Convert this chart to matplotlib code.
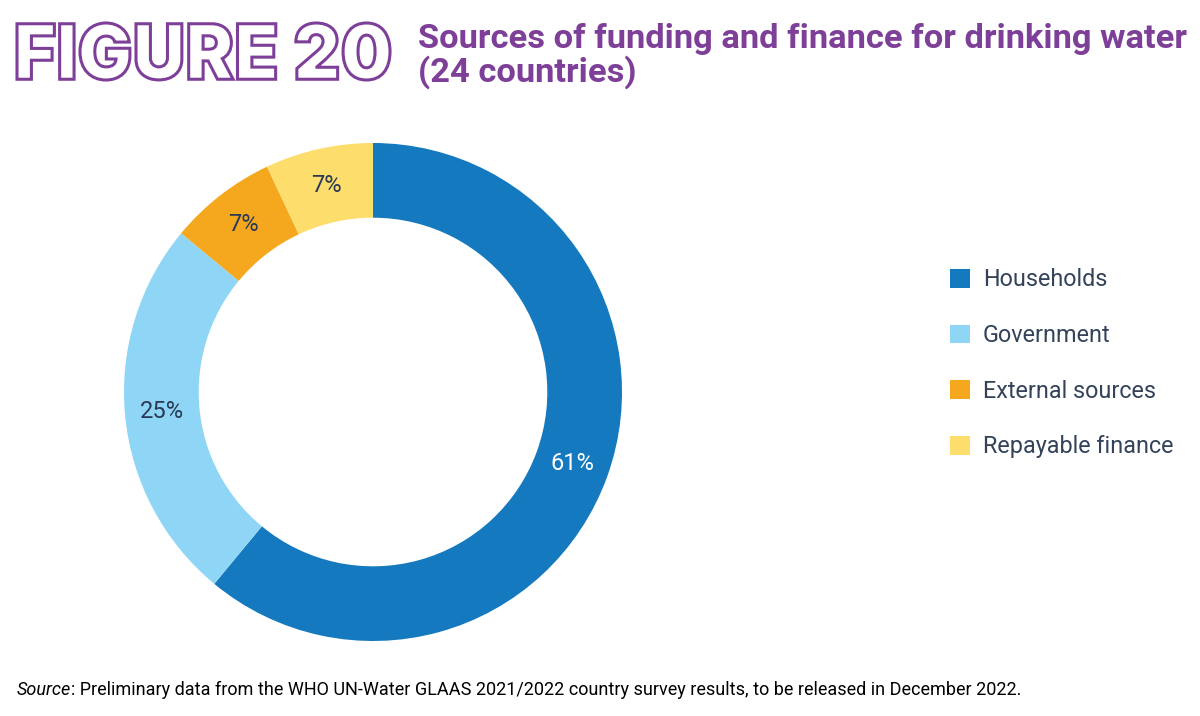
import matplotlib
matplotlib.use("Agg")
import matplotlib.pyplot as plt
import numpy as np
from matplotlib.textpath import TextPath
from matplotlib.patches import PathPatch, Patch
from matplotlib.font_manager import FontProperties
from matplotlib.transforms import Affine2D

# datos
categorias = ["Households", "Government", "External sources", "Repayable finance"]
valores = [61, 25, 7, 7]
etiquetas = ["61%", "25%", "7%", "7%"]
colores = ["#1479BE", "#8FD6F6", "#F5A81E", "#FDDD6C"]
color_etiqueta = ["white", "#2A3A55", "#2A3A55", "#2A3A55"]

morado = "#7E3F98"
texto = "#34435A"

W, H = 1200, 716
fig = plt.figure(figsize=(12, 7.16), dpi=100)

# titulo "FIGURE 20" con contorno, ajustado a su caja en pixeles
fp = FontProperties(family="Inter", weight=900)
tp = TextPath((0, 0), "FIGURE 20", prop=fp, size=100)
ext = tp.get_extents()
x0, x1, y0, y1 = 17, 390, H - 80, H - 23
sx = (x1 - x0) / ext.width
sy = (y1 - y0) / ext.height
tr = Affine2D().translate(-ext.x0, -ext.y0).scale(sx, sy).translate(x0, y0)
fig.patches.append(PathPatch(tr.transform_path(tp), facecolor="white",
                             edgecolor=morado, lw=2.2, transform=None,
                             figure=fig))

fig.text(418 / W, 1 - 48 / H, "Sources of funding and finance for drinking water",
         fontsize=24.8, fontweight="bold", color=morado, family="Roboto",
         ha="left", va="baseline")
fig.text(418 / W, 1 - 82 / H, "(24 countries)",
         fontsize=24.8, fontweight="bold", color=morado, family="Roboto",
         ha="left", va="baseline")

# dona
cx, cy, r = 373, 392, 249
lado = 270
ax = fig.add_axes([(cx - lado) / W, (H - cy - lado) / H, 2 * lado / W, 2 * lado / H])

wedges, _ = ax.pie(valores, colors=colores, startangle=90, counterclock=False,
                   radius=1, wedgeprops=dict(width=0.30, linewidth=0))
ax.set_xlim(-lado / r, lado / r)
ax.set_ylim(-lado / r, lado / r)
ax.axis("off")

for w, lab, c in zip(wedges, etiquetas, color_etiqueta):
    ang = np.deg2rad((w.theta1 + w.theta2) / 2)
    ax.text(0.85 * np.cos(ang), 0.85 * np.sin(ang), lab, ha="center", va="center",
            fontsize=17, color=c, family="Roboto")

# leyenda
handles = [Patch(facecolor=c, edgecolor="none") for c in colores]
leg = fig.legend(handles, categorias, loc="upper left",
                 bbox_to_anchor=(941 / W, 1 - 259 / H), frameon=False,
                 fontsize=16.8, handlelength=0.85, handleheight=0.85,
                 handletextpad=0.55, labelspacing=1.4, borderaxespad=0)
for t in leg.get_texts():
    t.set_color(texto)
    t.set_family("Roboto")

# fuente
t1 = fig.text(17 / W, 1 - 695 / H, "Source", fontsize=13, style="italic",
              color="black", family="Roboto", ha="left", va="baseline")
fig.canvas.draw()
bb = t1.get_window_extent()
fig.text(bb.x1 / W, 1 - 695 / H,
         ": Preliminary data from the WHO UN-Water GLAAS 2021/2022 country survey results, to be released in December 2022.",
         fontsize=13, color="black", family="Roboto", ha="left", va="baseline")

fig.savefig("out.png", dpi=100, facecolor="white")
